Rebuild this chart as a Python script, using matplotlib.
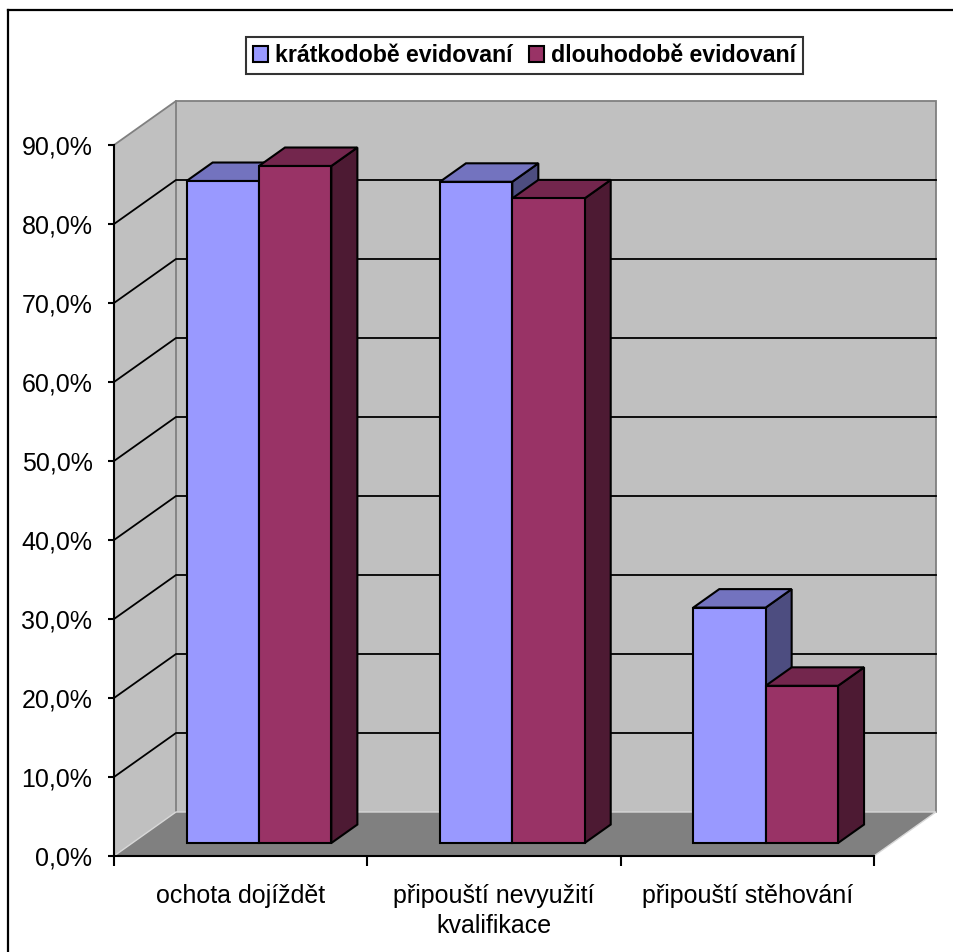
import matplotlib
matplotlib.use("Agg")
import matplotlib.pyplot as plt
from matplotlib.patches import Polygon, Patch
from matplotlib.lines import Line2D

categories = ["ochota dojíždět", "připouští nevyužití\nkvalifikace", "připouští stěhování"]
series_names = ["krátkodobě evidovaní", "dlouhodobě evidovaní"]
short_term = [83.8, 83.7, 29.8]
long_term = [85.7, 81.6, 19.9]
y_ticks = [0, 10, 20, 30, 40, 50, 60, 70, 80, 90]
y_labels = ["0,0%", "10,0%", "20,0%", "30,0%", "40,0%", "50,0%",
            "60,0%", "70,0%", "80,0%", "90,0%"]

front_colors = ["#9999FF", "#993366"]
top_colors = ["#7373BF", "#73264D"]
side_colors = ["#4D4D80", "#4D1A33"]

plt.rcParams["font.family"] = ["Liberation Sans", "DejaVu Sans"]

fig = plt.figure(figsize=(9.54, 9.52), dpi=100)
ax = fig.add_axes([0.1195, 0.10084, 0.79665, 0.74685])
ax.set_xlim(0, 3)
ax.set_ylim(0, 90)
ax.patch.set_visible(False)

# oblique depth: full depth shifts a point right and up (data units)
DX, DY = 0.2447, 5.57


def proj(x, y, d):
    return (x + d * DX, y + d * DY)


def face(pts, color, z, edge="none", lw=0):
    ax.add_patch(Polygon([proj(*p) for p in pts], closed=True,
                         facecolor=color, edgecolor=edge, linewidth=lw,
                         clip_on=False, zorder=z, joinstyle="miter"))


def line3(pts, color, lw, z):
    xs, ys = zip(*[proj(*p) for p in pts])
    ax.add_line(Line2D(xs, ys, color=color, linewidth=lw, zorder=z,
                       clip_on=False, solid_joinstyle="miter"))


# walls and floor
face([(0, 0, 1), (3, 0, 1), (3, 90, 1), (0, 90, 1)], "#C0C0C0", 0.5)
face([(0, 0, 0), (0, 0, 1), (0, 90, 1), (0, 90, 0)], "#C0C0C0", 0.5)
face([(0, 0, 0), (3, 0, 0), (3, 0, 1), (0, 0, 1)], "#808080", 0.5)
line3([(0, 90, 0), (0, 90, 1), (3, 90, 1), (3, 0, 1)], "#808080", 1.3, 0.6)
line3([(0, 0, 1), (0, 90, 1)], "#808080", 1.3, 0.6)
line3([(0, 0, 0), (0, 0, 1), (3, 0, 1), (3, 0, 0)], "#D8D8D8", 1.0, 0.6)

# gridlines across the side wall and back wall
for v in y_ticks[1:-1]:
    line3([(0, v, 0), (0, v, 1), (3, v, 1)], "black", 1.3, 0.7)

# bars: front face, top and right side
w = 1 / 3.5
d0, d1 = 0.295, 0.715
z = 2
for i in range(len(categories)):
    for s, vals in enumerate([short_term, long_term]):
        v = vals[i]
        x0 = i + 0.5 - w + s * w
        x1 = x0 + w
        face([(x1, 0, d0), (x1, 0, d1), (x1, v, d1), (x1, v, d0)],
             side_colors[s], z, "black", 1.5)
        face([(x0, v, d0), (x1, v, d0), (x1, v, d1), (x0, v, d1)],
             top_colors[s], z, "black", 1.5)
        face([(x0, 0, d0), (x1, 0, d0), (x1, v, d0), (x0, v, d0)],
             front_colors[s], z, "black", 1.5)
        z += 1

for side in ["top", "right"]:
    ax.spines[side].set_visible(False)
for side in ["left", "bottom"]:
    ax.spines[side].set_linewidth(1.5)
    ax.spines[side].set_zorder(10)

ax.set_yticks(y_ticks, y_labels)
ax.tick_params(axis="y", direction="out", length=4.5, width=1.5,
               pad=11, labelsize=18)
ax.set_xticks([0, 1, 2, 3], [])
ax.set_xticks([0.5, 1.5, 2.5], categories, minor=True)
ax.tick_params(axis="x", which="major", direction="out", length=7, width=1.5)
ax.tick_params(axis="x", which="minor", length=0, pad=20, labelsize=18)
for lbl in ax.get_xticklabels(minor=True):
    lbl.set_linespacing(1.35)

handles = [Patch(facecolor=c, edgecolor="black", linewidth=1.5)
           for c in front_colors]
leg = fig.legend(handles, series_names, loc="center",
                 bbox_to_anchor=(0.5498, 0.9417), ncol=2, frameon=True,
                 fancybox=False, shadow=False, edgecolor="black",
                 prop={"weight": "bold", "size": 16.7},
                 handlelength=0.65, handleheight=0.65, handletextpad=0.3,
                 columnspacing=0.7, borderpad=0.3)
leg.get_frame().set_linewidth(1.5)

# chart frame
fig.add_artist(Line2D([0.0079, 0.0079], [0, 0.990], color="black", linewidth=1.6))
fig.add_artist(Line2D([0.0079, 1], [0.990, 0.990], color="black", linewidth=1.6))

fig.savefig("out.png", dpi=100)
